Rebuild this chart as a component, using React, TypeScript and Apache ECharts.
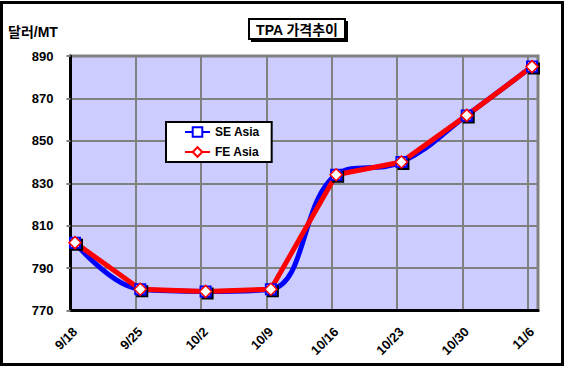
import React, { useEffect, useRef } from "react";
import * as echarts from "echarts";

const categories = ["9/18", "9/25", "10/2", "10/9", "10/16", "10/23", "10/30", "11/6"];
const seAsia = [802, 780, 779, 780, 834, 840, 862, 885];
const feAsia = [802, 780, 779, 780, 834, 840, 862, 885];
const yMin = 770;
const yMax = 890;
const yStep = 20;
const dayStep = 7;
const daySpan = 50.1;

const FONT = "'Liberation Sans', Arial, 'Noto Sans CJK KR', sans-serif";

export default function App() {
  const ref = useRef<HTMLDivElement>(null);
  useEffect(() => {
    if (!ref.current) return;
    const chart = echarts.init(ref.current, undefined, { renderer: "svg" });
    chart.setOption({
      animation: false,
      backgroundColor: "#ffffff",
      grid: [
        { left: 70.5, right: 29, top: 56, bottom: 57.5, show: true, backgroundColor: "#CCCCFF", borderColor: "#808080", borderWidth: 3 },
        { left: 75, right: 35, top: 56, bottom: 57.5 },
      ],
      xAxis: [
        {
          type: "value", gridIndex: 0, min: 0, max: daySpan, interval: dayStep,
          axisLine: { show: true, lineStyle: { color: "#000", width: 3 } },
          axisTick: { show: false }, axisLabel: { show: false },
          splitLine: { show: true, lineStyle: { color: "#808080", width: 2 } },
        },
        {
          type: "category", gridIndex: 1, data: categories, boundaryGap: false,
          axisLine: { show: false }, axisTick: { show: false },
          splitLine: { show: false },
          axisLabel: { rotate: 45, margin: 19, fontFamily: FONT, fontWeight: "bold", fontSize: 13, color: "#000" },
        },
      ],
      yAxis: [
        {
          type: "value", gridIndex: 0, min: yMin, max: yMax, interval: yStep,
          axisLine: { show: true, lineStyle: { color: "#000", width: 3 } },
          axisTick: { show: true, length: 4, lineStyle: { color: "#808080", width: 2 } },
          axisLabel: { margin: 17, fontFamily: FONT, fontWeight: "bold", fontSize: 13, color: "#000" },
          splitLine: { show: true, lineStyle: { color: "#808080", width: 2 } },
        },
        {
          type: "value", gridIndex: 1, min: yMin, max: yMax, interval: yStep,
          show: false, splitLine: { show: false },
        },
      ],
      legend: {
        orient: "vertical", left: 166, top: 122,
        backgroundColor: "#fff", borderColor: "#000", borderWidth: 2,
        padding: [4, 12, 4, 18], itemWidth: 25, itemHeight: 12, itemGap: 8,
        textStyle: { fontFamily: FONT, fontWeight: "bold", fontSize: 12, color: "#000" },
        data: ["SE Asia", "FE Asia"],
      },
      series: [
        {
          name: "SE Asia", type: "line", xAxisIndex: 1, yAxisIndex: 1, data: seAsia,
          smooth: 0.4, symbol: "rect", symbolSize: 10,
          lineStyle: { color: "#0000FF", width: 5 },
          itemStyle: { color: "#fff", borderColor: "#0000FF", borderWidth: 2, shadowColor: "#000", shadowOffsetX: 2, shadowOffsetY: 2, shadowBlur: 0 },
        },
        {
          name: "FE Asia", type: "line", xAxisIndex: 1, yAxisIndex: 1, data: feAsia,
          smooth: false, symbol: "diamond", symbolSize: 12,
          lineStyle: { color: "#FF0000", width: 5 },
          itemStyle: { color: "#fff", borderColor: "#FF0000", borderWidth: 1.5 },
        },
      ],
      graphic: [
        { type: "rect", shape: { x: 1.5, y: 2.5, width: 561, height: 362 }, style: { fill: "none", stroke: "#000", lineWidth: 3 }, z: 100 },
        { type: "rect", shape: { x: 251, y: 21, width: 97, height: 21 }, style: { fill: "#000" }, z: 100 },
        { type: "rect", shape: { x: 249, y: 19, width: 96, height: 20 }, style: { fill: "#fff", stroke: "#000", lineWidth: 2 }, z: 101 },
        {
          type: "text", x: 297, y: 29.5, z: 102,
          style: { text: "TPA 가격추이", fontFamily: FONT, fontWeight: "bold", fontSize: 14, fill: "#000", align: "center", verticalAlign: "middle" },
        },
        {
          type: "text", x: 8, y: 32, z: 102,
          style: { text: "달러/MT", fontFamily: FONT, fontWeight: "bold", fontSize: 14, fill: "#000", align: "left", verticalAlign: "middle" },
        },
      ],
    });
    return () => chart.dispose();
  }, []);
  return <div ref={ref} style={{ width: 567, height: 368, position: "absolute", left: 0, top: 0 }} />;
}
